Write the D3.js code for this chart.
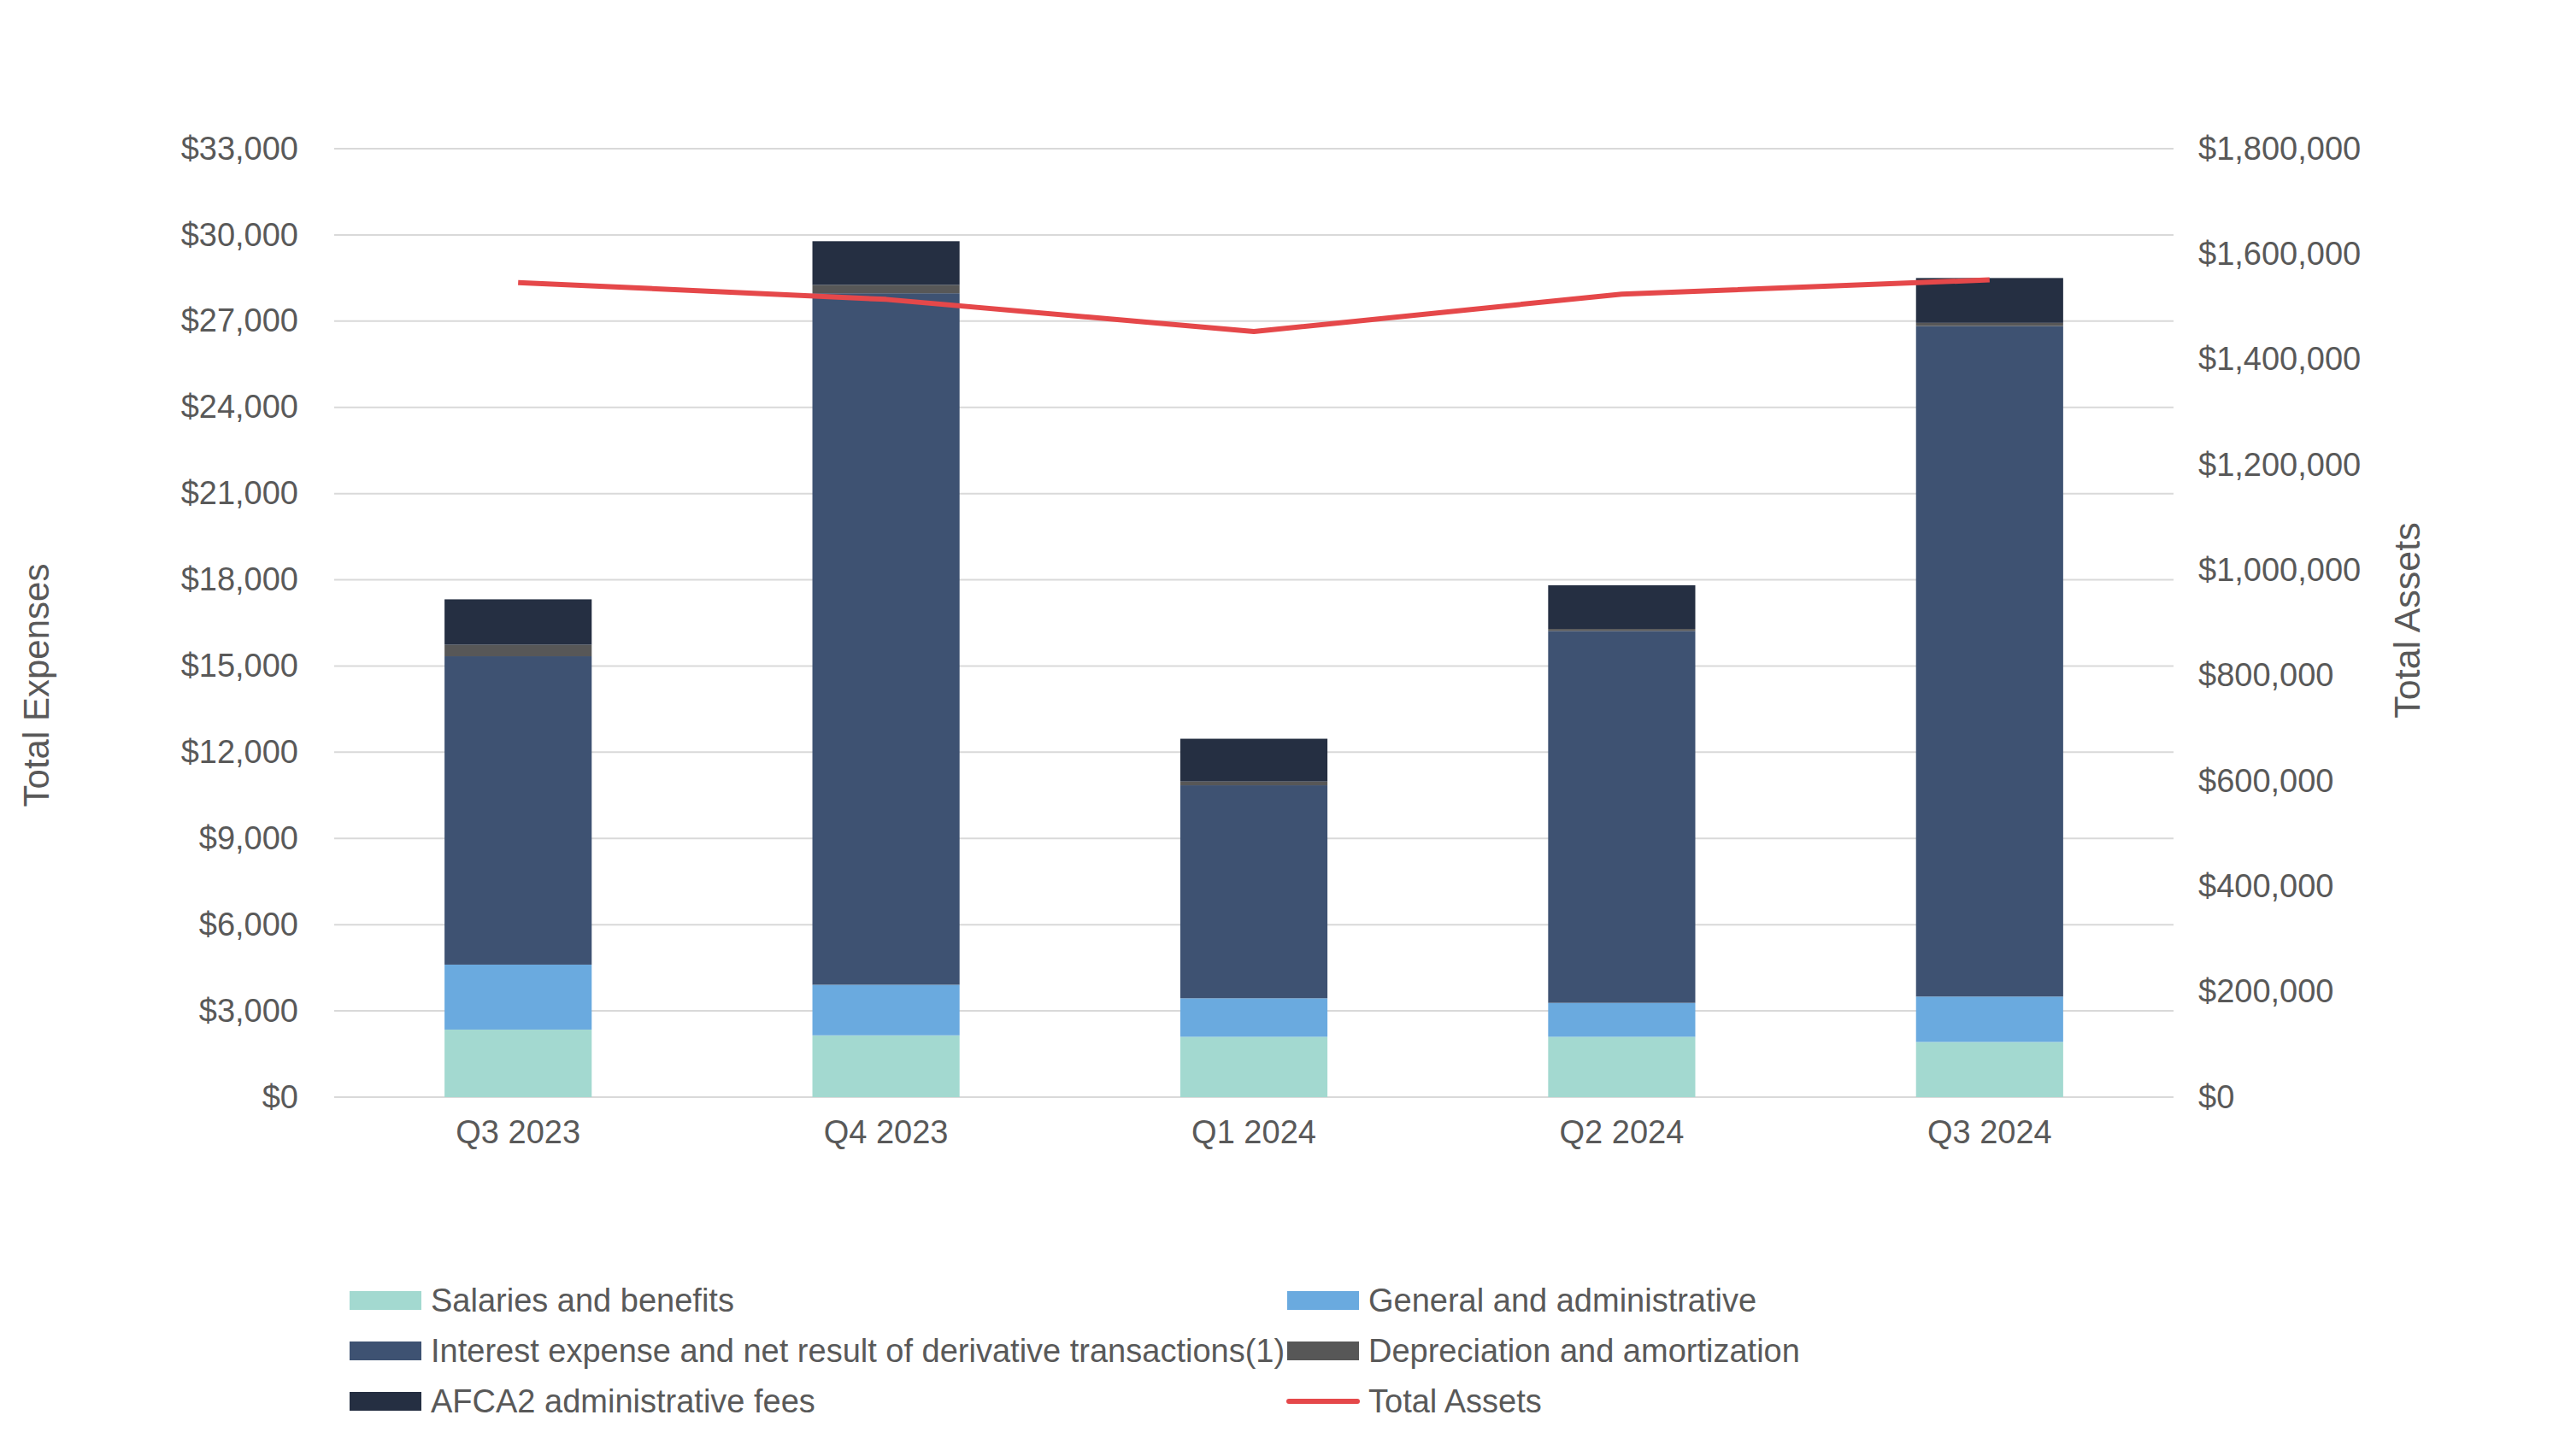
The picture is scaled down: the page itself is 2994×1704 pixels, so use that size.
<!DOCTYPE html>
<html><head><meta charset="utf-8">
<script src="https://cdn.jsdelivr.net/npm/d3@7"></script>
<style>body{margin:0;background:#fff}svg{display:block}text{font-family:"Liberation Sans",Arial,sans-serif;fill:#595959}</style>
</head><body><svg id="c" width="2994" height="1704"></svg>
<script>
const quarters = ["Q3 2023","Q4 2023","Q1 2024","Q2 2024","Q3 2024"];
const salaries = [2350, 2150, 2100, 2100, 1920];
const generalAdmin = [2260, 1760, 1340, 1180, 1580];
const interestExp = [10730, 24060, 7410, 12940, 23330];
const depreciation = [400, 290, 130, 70, 110];
const afca2Fees = [1580, 1520, 1490, 1520, 1560];
const totalAssets = [1546000, 1514000, 1453000, 1524000, 1551000];
const leftTicks = [0,3000,6000,9000,12000,15000,18000,21000,24000,27000,30000,33000];
const rightTicks = [0,200000,400000,600000,800000,1000000,1200000,1400000,1600000,1800000];
const seriesNames = ["Salaries and benefits","General and administrative","Interest expense and net result of derivative transactions(1)","Depreciation and amortization","AFCA2 administrative fees"];
const seriesColors = ["#A3D9D0","#6AAADF","#3E5272","#575757","#252F42"];
const lineName = "Total Assets";
const lineColor = "#E5484A";

const svg = d3.select("#c");
const L = 391, R = 2543, T = 174, B = 1284;
const x = d3.scaleBand().domain(quarters).range([L,R]).paddingInner(0.6).paddingOuter(0.3);
const yL = d3.scaleLinear().domain([0,33000]).range([B,T]);
const yR = d3.scaleLinear().domain([0,1800000]).range([B,T]);

svg.append("g").selectAll("line").data(leftTicks).join("line")
  .attr("x1",L).attr("x2",R).attr("y1",d=>yL(d)).attr("y2",d=>yL(d))
  .attr("stroke","#D9D9D9").attr("stroke-width",2);

const fmt = d3.format("$,");
const gL = svg.append("g").attr("transform",`translate(${L},0)`)
  .call(d3.axisLeft(yL).tickValues(leftTicks).tickFormat(fmt).tickSize(0).tickPadding(42));
gL.select(".domain").remove();
gL.selectAll("text").attr("font-size",38).attr("fill","#595959").attr("font-family","Liberation Sans, Arial, sans-serif");

const gR = svg.append("g").attr("transform",`translate(${R},0)`)
  .call(d3.axisRight(yR).tickValues(rightTicks).tickFormat(fmt).tickSize(0).tickPadding(29));
gR.select(".domain").remove();
gR.selectAll("text").attr("font-size",38).attr("fill","#595959").attr("font-family","Liberation Sans, Arial, sans-serif");

const gX = svg.append("g").attr("transform",`translate(0,${B})`)
  .call(d3.axisBottom(x).tickSize(0).tickPadding(27));
gX.select(".domain").remove();
gX.selectAll("text").attr("font-size",38).attr("fill","#595959").attr("font-family","Liberation Sans, Arial, sans-serif");

const rows = quarters.map((q,i)=>({q, s0:salaries[i], s1:generalAdmin[i], s2:interestExp[i], s3:depreciation[i], s4:afca2Fees[i]}));
const stack = d3.stack().keys(["s0","s1","s2","s3","s4"])(rows);
svg.append("g").selectAll("g").data(stack).join("g").attr("fill",(d,i)=>seriesColors[i])
  .selectAll("rect").data(d=>d).join("rect")
  .attr("x",d=>x(d.data.q)).attr("width",x.bandwidth())
  .attr("y",d=>yL(d[1])).attr("height",d=>yL(d[0])-yL(d[1]));

const line = d3.line().x((d,i)=>x(quarters[i])+x.bandwidth()/2).y(d=>yR(d));
svg.append("path").datum(totalAssets).attr("d",line).attr("fill","none")
  .attr("stroke",lineColor).attr("stroke-width",6).attr("stroke-linejoin","round");

svg.append("text").attr("transform","translate(57,802) rotate(-90)").attr("text-anchor","middle")
  .attr("font-size",42).text("Total Expenses");
svg.append("text").attr("transform","translate(2831,726) rotate(-90)").attr("text-anchor","middle")
  .attr("font-size",43).text("Total Assets");

const legendItems = seriesNames.map((n,i)=>({name:n,color:seriesColors[i],type:"rect"})).concat([{name:lineName,color:lineColor,type:"line"}]);
const colX = [409, 1506], rowY = [1522, 1581, 1640];
const lg = svg.append("g").selectAll("g").data(legendItems).join("g")
  .attr("transform",(d,i)=>`translate(${colX[i%2]},${rowY[Math.floor(i/2)]})`);
lg.filter(d=>d.type==="rect").append("rect").attr("x",0).attr("y",-11).attr("width",84).attr("height",22).attr("fill",d=>d.color);
lg.filter(d=>d.type==="line").append("line").attr("x1",2).attr("x2",82).attr("y1",0).attr("y2",0)
  .attr("stroke",d=>d.color).attr("stroke-width",6).attr("stroke-linecap","round");
lg.append("text").attr("x",95).attr("y",0).attr("dy","0.35em").attr("font-size",38).text(d=>d.name);
</script></body></html>
